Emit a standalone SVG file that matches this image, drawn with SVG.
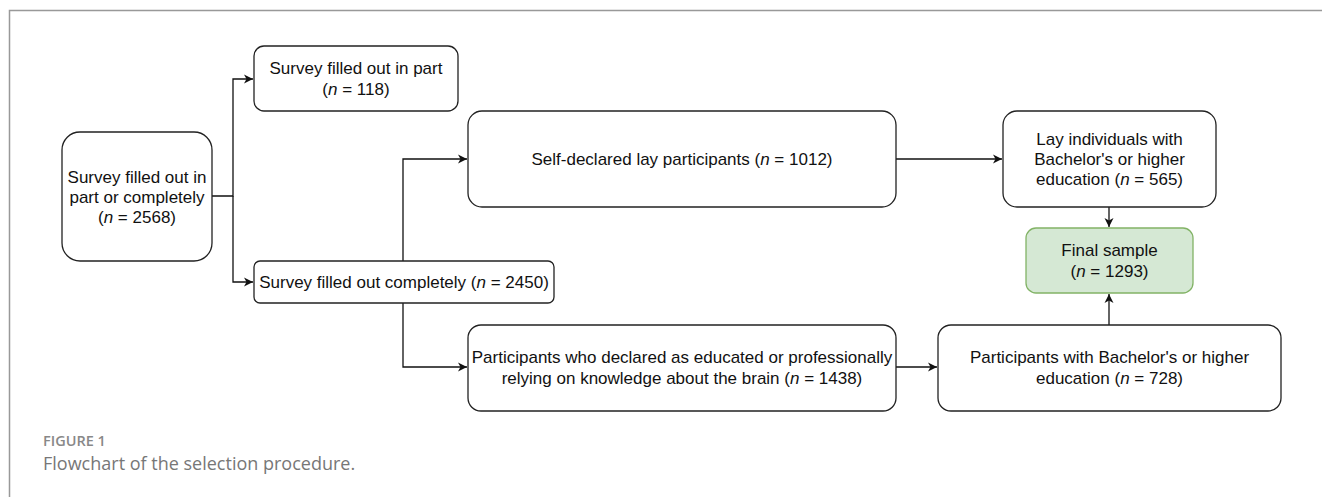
<svg xmlns="http://www.w3.org/2000/svg" width="1322" height="497" viewBox="0 0 1322 497">
<style>
.box{fill:#fff;stroke:#222;stroke-width:1.3}
.green{fill:#d5e8d4;stroke:#82b366;stroke-width:1.3}
.t{font-family:"Liberation Sans",Arial,sans-serif;font-size:17px;fill:#111;text-anchor:middle}
.conn{fill:none;stroke:#111;stroke-width:1.3}
.frame{fill:none;stroke:#999;stroke-width:1.5}
.cap1{font-family:"Open Sans","Lato",sans-serif;font-size:14.5px;font-weight:600;fill:#888}
.cap2{font-family:"Open Sans","Lato",sans-serif;font-size:18px;fill:#777}
</style>
<defs>
<marker id="arr" markerUnits="userSpaceOnUse" markerWidth="12" markerHeight="12" refX="10" refY="6" orient="auto">
<path d="M1,1.5 L10,6 L1,10.5 L3.5,6 z" fill="#111"/>
</marker>
</defs>
<path class="frame" d="M9.5,497 V10.5 H1322"/>
<g id="connectors">
<path class="conn" d="M212,196 H233 V79 H253" marker-end="url(#arr)"/>
<path class="conn" d="M233,196 V282 H253" marker-end="url(#arr)"/>
<path class="conn" d="M403,261 V159 H467" marker-end="url(#arr)"/>
<path class="conn" d="M403,303 V367 H467" marker-end="url(#arr)"/>
<path class="conn" d="M896,159 H1002" marker-end="url(#arr)"/>
<path class="conn" d="M896,367 H937" marker-end="url(#arr)"/>
<path class="conn" d="M1109,207 V227" marker-end="url(#arr)"/>
<path class="conn" d="M1109,325 V294" marker-end="url(#arr)"/>
</g>
<g id="nodeA">
<rect class="box" x="62" y="132" width="150" height="129" rx="18"/>
<text class="t" x="137" y="183">Survey filled out in</text>
<text class="t" x="137" y="203">part or completely</text>
<text class="t" x="137" y="223">(<tspan font-style="italic">n</tspan> = 2568)</text>
</g>
<g id="nodeB">
<rect class="box" x="254" y="46" width="204" height="65" rx="10"/>
<text class="t" x="356" y="74">Survey filled out in part</text>
<text class="t" x="356" y="95">(<tspan font-style="italic">n</tspan> = 118)</text>
</g>
<g id="nodeC">
<rect class="box" x="254" y="261" width="300" height="42" rx="6"/>
<text class="t" x="404" y="288">Survey filled out completely (<tspan font-style="italic">n</tspan> = 2450)</text>
</g>
<g id="nodeD">
<rect class="box" x="468" y="111" width="428" height="96" rx="14"/>
<text class="t" x="682" y="165">Self-declared lay participants (<tspan font-style="italic">n</tspan> = 1012)</text>
</g>
<g id="nodeE">
<rect class="box" x="468" y="325" width="428" height="86" rx="13"/>
<text class="t" x="682" y="363">Participants who declared as educated or professionally</text>
<text class="t" x="682" y="384">relying on knowledge about the brain (<tspan font-style="italic">n</tspan> = 1438)</text>
</g>
<g id="nodeF">
<rect class="box" x="1003" y="111" width="213" height="96" rx="14"/>
<text class="t" x="1109.5" y="145">Lay individuals with</text>
<text class="t" x="1109.5" y="165">Bachelor's or higher</text>
<text class="t" x="1109.5" y="185">education (<tspan font-style="italic">n</tspan> = 565)</text>
</g>
<g id="nodeG">
<rect class="green" x="1026" y="228" width="167" height="65" rx="10"/>
<text class="t" x="1109.5" y="256">Final sample</text>
<text class="t" x="1109.5" y="277">(<tspan font-style="italic">n</tspan> = 1293)</text>
</g>
<g id="nodeH">
<rect class="box" x="938" y="325" width="343" height="86" rx="13"/>
<text class="t" x="1109.5" y="363">Participants with Bachelor's or higher</text>
<text class="t" x="1109.5" y="384">education (<tspan font-style="italic">n</tspan> = 728)</text>
</g>
<g id="caption">
<text class="cap1" x="43" y="446">FIGURE 1</text>
<text class="cap2" x="43" y="470">Flowchart of the selection procedure.</text>
</g>
</svg>
